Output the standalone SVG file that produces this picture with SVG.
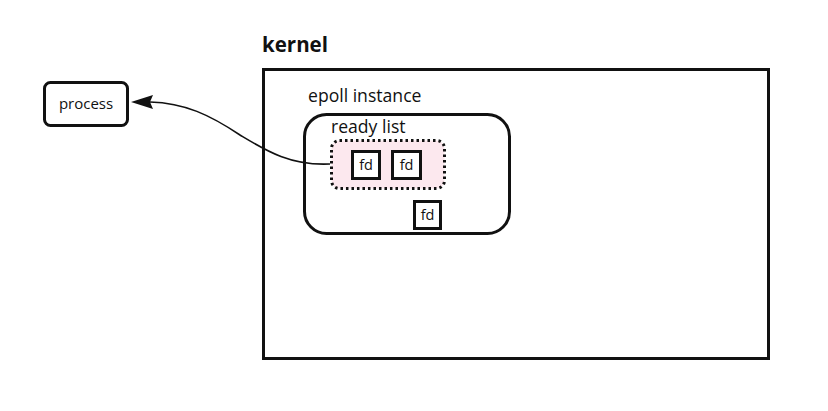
<svg xmlns="http://www.w3.org/2000/svg" width="828" height="411" viewBox="0 0 828 411">
<style>
  .box{fill:#fff;stroke:#111;stroke-width:3}
  .t{font-family:"Open Sans","Noto Sans",sans-serif;fill:#111}
  .fd{fill:#fff;stroke:#111;stroke-width:3}
</style>
<rect width="828" height="411" fill="#fff"/>
<g id="kernel">
  <rect class="box" x="263.5" y="69.5" width="505" height="289"/>
  <text class="t" x="262" y="52" font-size="20.5" font-weight="bold">kernel</text>
</g>
<g id="process">
  <rect class="box" x="44.5" y="82.5" width="83" height="43" rx="6"/>
  <text class="t" x="86" y="109" font-size="15" text-anchor="middle">process</text>
</g>
<g id="epoll">
  <rect class="box" x="304.5" y="114.5" width="205" height="119" rx="22"/>
  <text class="t" x="308" y="102" font-size="17.6">epoll instance</text>
</g>
<g id="readylist">
  <rect x="331.5" y="140.5" width="113" height="48" rx="8" fill="#fce8ee" stroke="#111" stroke-width="3" stroke-dasharray="2.5 3"/>
  <text class="t" x="331" y="133" font-size="17.6">ready list</text>
</g>
<g id="fd1">
  <rect class="fd" x="352.5" y="151.5" width="27" height="27"/>
  <text class="t" x="366" y="170" font-size="14.5" text-anchor="middle">fd</text>
</g>
<g id="fd2">
  <rect class="fd" x="392.5" y="151.5" width="28" height="27"/>
  <text class="t" x="406.5" y="170" font-size="14.5" text-anchor="middle">fd</text>
</g>
<g id="fd3">
  <rect class="fd" x="414.5" y="201.5" width="26" height="27"/>
  <text class="t" x="427.5" y="220" font-size="14.5" text-anchor="middle">fd</text>
</g>
<g id="connectors">
  <path d="M330,164 C290,166 265,150 240,135 C210,115 185,103 150,102" fill="none" stroke="#111" stroke-width="1.6"/>
  <path d="M131,102 L153,95 L150,102 L153,109 Z" fill="#111"/>
</g>
</svg>
